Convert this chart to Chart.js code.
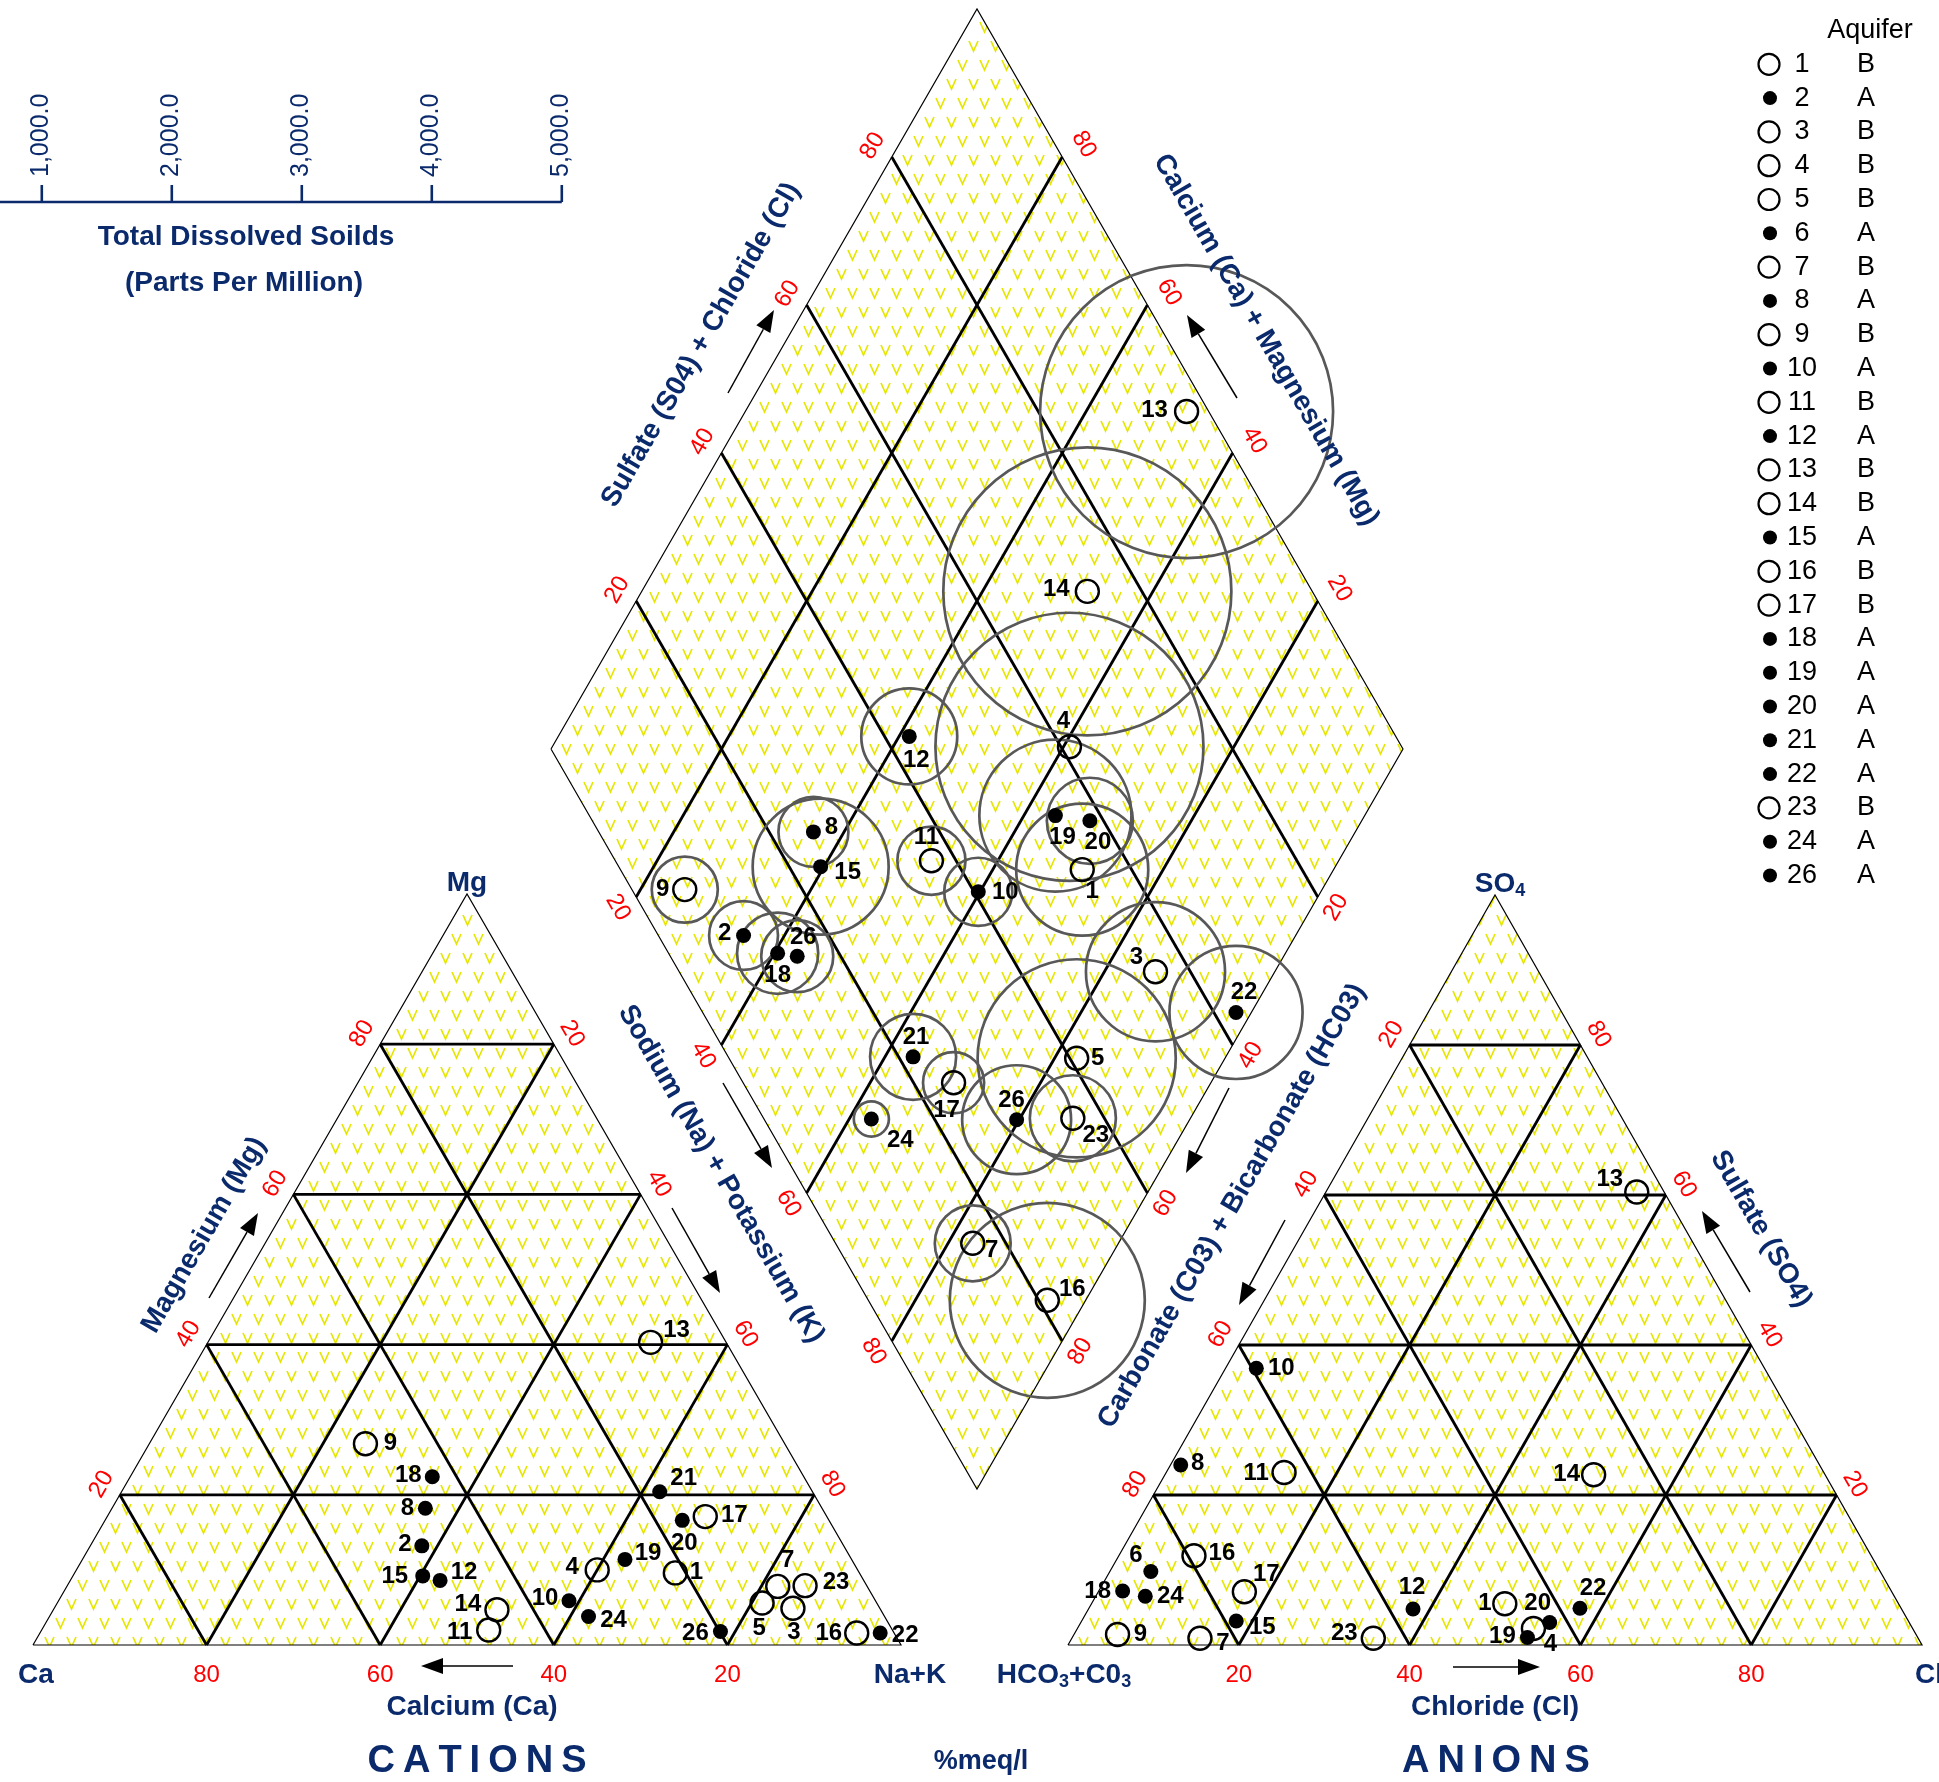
<!DOCTYPE html>
<html>
<head>
<meta charset="utf-8">
<title>Piper diagram</title>
<script src="https://cdn.jsdelivr.net/npm/chart.js@4.4.1/dist/chart.umd.min.js"></script>
<style>
  html, body { margin: 0; padding: 0; background: #fff; }
  canvas { display: block; }
</style>
</head>
<body>
<canvas id="piper" width="1939" height="1782"></canvas>
<script>
// ---- data (percent meq/l) ----
const samples = ['1', '2', '3', '4', '5', '6', '7', '8', '9', '10', '11', '12', '13',
    '14', '15', '16', '17', '18', '19', '20', '21', '22', '23', '24', '26'];
const aquifer = ['B', 'A', 'B', 'B', 'B', 'A', 'B', 'A', 'B', 'A', 'B', 'A', 'B',
    'B', 'A', 'B', 'B', 'A', 'A', 'A', 'A', 'A', 'B', 'A', 'A'];

// cations triangle
const calcium = [21.2, 48.6, 10.0, 30.0, 13.2, null, 10.3, 45.7, 48.3, 35.3, 46.5, 48.8, 8.7,
    44.2, 50.5, 4.3, 14.0, 42.8, 26.1, 16.9, 17.6, 1.6, 7.1, 34.1, 19.9];
const magnesium = [9.6, 13.2, 4.9, 10.0, 5.6, null, 7.8, 18.2, 26.8, 5.9, 2.0, 8.6, 40.3,
    4.7, 9.2, 1.6, 17.1, 22.4, 11.4, 16.6, 20.4, 1.6, 7.9, 3.8, 1.8];
const sodiumPotassium = [69.2, 38.2, 85.1, 60.0, 81.2, null, 81.9, 36.1, 24.9, 58.8, 51.5, 42.6, 51.0,
    51.1, 40.3, 94.1, 68.9, 34.8, 62.5, 66.5, 62.0, 96.8, 85.0, 62.1, 78.3];

// anions triangle
const bicarbonate = [46.1, null, null, 44.4, null, 85.4, 84.1, 74.8, 93.5, 59.5, 63.2, 57.2, 3.2,
    27.1, 78.7, 79.3, 75.8, 90.0, 45.7, 42.1, null, 37.6, 63.8, 87.7, null];
const sulfate = [5.5, null, null, 2.2, null, 9.8, 0.9, 24.0, 1.4, 36.9, 23.0, 4.8, 60.4,
    22.7, 3.2, 11.9, 7.1, 7.2, 1.0, 3.0, null, 4.9, 0.9, 6.5, null];
const chloride = [48.4, null, null, 53.4, null, 4.8, 15.0, 1.2, 5.1, 3.6, 13.8, 38.0, 36.4,
    50.2, 18.1, 8.8, 17.1, 2.8, 53.3, 54.9, null, 57.5, 35.3, 5.8, null];

// diamond (Na+K and SO4+Cl as plotted)
const diamondNaK = [70.5, 35.2, 86.0, 60.7, 82.6, 42.9, 82.9, 36.4, 25.2, 59.8, 52.2, 41.2, 51.8,
    52.3, 39.6, 95.5, 69.8, 40.4, 63.7, 68.1, 63.3, 98.2, 86.2, 62.6, 79.7];
const diamondSO4Cl = [54.2, 10.0, 55.9, 61.0, 40.8, 14.9, 16.1, 25.2, 6.2, 40.5, 37.1, 42.9, 97.4,
    73.6, 23.7, 21.0, 24.7, 12.8, 54.7, 58.4, 21.7, 62.6, 36.3, 12.6, 29.6];

// total dissolved solids, ppm
const tds = [508, 265, 535, 1031, 762, 277, 292, 269, 254, 262, 262, 369, 1127,
    1108, 523, 750, 235, 312, 585, 331, 331, 512, 331, 135, 419];

const ternaryTicks = [20, 40, 60, 80];
const tdsTicks = [1000, 2000, 3000, 4000, 5000];

// ---- layout ----
const FONT = '"Liberation Sans", Arial, Helvetica, sans-serif';
const NAVY = '#0a2a6c';
const RED = '#ff0000';

const CAT = { L: [33, 1645], R: [901, 1645], T: [467, 894] };
const ANI = { L: [1068, 1645], R: [1922, 1645], T: [1495, 895] };
const DIA = { L: [551, 749], T: [977, 9], R: [1403, 749], B: [977, 1489] };

const TDS_ORIGIN = -88.2;      // x of 0 ppm on the scale bar
const TDS_PX_PER_PPM = 0.13;   // same factor sets the circle radius
const TDS_AXIS_Y = 202;

// label centre offsets from the marker, px
const CATION_LABEL_OFFSET = {
    '1': [21, -1], '2': [-17, -1], '3': [1, 24], '4': [-25, -3], '5': [-3, 25], '7': [10, -26],
    '8': [-18, 0], '9': [25, 0], '10': [-24, -2], '11': [-29, 2], '12': [24, -8], '13': [26, -12],
    '14': [-29, -5], '15': [-28, 0], '16': [-28, 0], '17': [29, -1], '18': [-24, -1], '19': [23, -6],
    '20': [2, 23], '21': [24, -13], '22': [25, 2], '23': [31, -3], '24': [25, 4], '26': [-25, 2]
};
const ANION_LABEL_OFFSET = {
    '1': [-20, 0], '4': [17, 16], '6': [-15, -16], '7': [23, 5], '8': [17, -2], '9': [23, 0],
    '10': [25, 0], '11': [-28, 1], '12': [-1, -22], '13': [-27, -13], '14': [-27, 0], '15': [26, 6],
    '16': [28, -2], '17': [22, -17], '18': [-25, 0], '19': [-25, -1], '20': [-12, -19],
    '22': [13, -20], '23': [-29, -5], '24': [25, 0]
};
const DIAMOND_LABEL_OFFSET = {
    '1': [10, 22], '2': [-19, -2], '3': [-19, -14], '4': [-6, -25], '5': [21, 0], '6': [6, -19],
    '7': [19, 7], '8': [18, -5], '9': [-22, 0], '10': [27, 1], '11': [-5, -23], '12': [7, 24],
    '13': [-32, -1], '14': [-31, -2], '15': [27, 6], '16': [25, -11], '17': [-7, 28], '18': [0, 22],
    '19': [7, 22], '20': [8, 22], '21': [3, -19], '22': [8, -20], '23': [23, 17], '24': [29, 21],
    '26': [-5, -19]
};
const DIAMOND_LABEL_TEXT = { '6': '26' };

// ---- ternary projections ----
const cationPoint = (ca, mg, nak) => {
    const s = ca + mg + nak;
    return {
        x: (ca * CAT.L[0] + nak * CAT.R[0] + mg * CAT.T[0]) / s,
        y: (ca * CAT.L[1] + nak * CAT.R[1] + mg * CAT.T[1]) / s
    };
};
const anionPoint = (hco3, so4, cl) => {
    const s = hco3 + so4 + cl;
    return {
        x: (hco3 * ANI.L[0] + cl * ANI.R[0] + so4 * ANI.T[0]) / s,
        y: (hco3 * ANI.L[1] + cl * ANI.R[1] + so4 * ANI.T[1]) / s
    };
};
const diamondPoint = (nak, so4cl) => ({
    x: DIA.L[0] + so4cl / 100 * (DIA.T[0] - DIA.L[0]) + nak / 100 * (DIA.B[0] - DIA.L[0]),
    y: DIA.L[1] + so4cl / 100 * (DIA.T[1] - DIA.L[1]) + nak / 100 * (DIA.B[1] - DIA.L[1])
});

const cationPts = samples.map((s, i) => calcium[i] == null ? null
    : cationPoint(calcium[i], magnesium[i], sodiumPotassium[i]));
const anionPts = samples.map((s, i) => bicarbonate[i] == null ? null
    : anionPoint(bicarbonate[i], sulfate[i], chloride[i]));
const diamondPts = samples.map((s, i) => diamondPoint(diamondNaK[i], diamondSO4Cl[i]));

// yellow "V" fill used in the original
const makePattern = () => {
    const c = document.createElement('canvas');
    c.width = 22;
    c.height = 38;
    const g = c.getContext('2d');
    g.strokeStyle = '#e6e600';
    g.lineWidth = 1.7;
    const v = (x, y) => {
        g.beginPath();
        g.moveTo(x, y);
        g.lineTo(x + 4.5, y + 10);
        g.lineTo(x + 9, y);
        g.stroke();
    };
    v(1, 3);
    v(12, 22);
    return g.createPattern(c, 'repeat');
};
const yellowV = makePattern();

// ---- datasets ----
const datasets = [];
const xy = (p) => ({ x: p[0], y: p[1] });

[[CAT.L, CAT.R, CAT.T], [ANI.L, ANI.R, ANI.T], [DIA.L, DIA.T, DIA.R, DIA.B]].forEach((poly) => {
    datasets.push({
        type: 'line',
        data: poly.concat([poly[0]]).map(xy),
        borderColor: '#000',
        borderWidth: 1.2,
        backgroundColor: yellowV,
        fill: 'shape',
        pointRadius: 0,
        tension: 0,
        order: 50
    });
});

const seg = (p, q) => ({
    type: 'line',
    data: [p, q],
    borderColor: '#000',
    borderWidth: 2.8,
    pointRadius: 0,
    fill: false,
    tension: 0,
    order: 40
});
ternaryTicks.forEach((v) => {
    const w = 100 - v;
    datasets.push(seg(cationPoint(w, v, 0), cationPoint(0, v, w)));   // Mg
    datasets.push(seg(cationPoint(v, 0, w), cationPoint(v, w, 0)));   // Ca
    datasets.push(seg(cationPoint(w, 0, v), cationPoint(0, w, v)));   // Na+K
    datasets.push(seg(anionPoint(w, v, 0), anionPoint(0, v, w)));     // SO4
    datasets.push(seg(anionPoint(v, 0, w), anionPoint(v, w, 0)));     // HCO3
    datasets.push(seg(anionPoint(w, 0, v), anionPoint(0, w, v)));     // Cl
    datasets.push(seg(diamondPoint(0, v), diamondPoint(100, v)));
    datasets.push(seg(diamondPoint(v, 0), diamondPoint(v, 100)));
});

datasets.push({
    type: 'bubble',
    data: diamondPts.map((p, i) => ({ x: p.x, y: p.y, r: tds[i] * TDS_PX_PER_PPM })),
    backgroundColor: 'rgba(0,0,0,0)',
    borderColor: '#585858',
    borderWidth: 2.7,
    order: 30
});

const markerSet = (pts, kind) => ({
    type: 'scatter',
    data: pts.filter((p, i) => p && aquifer[i] === kind),
    pointRadius: kind === 'B' ? 11.5 : 7.5,
    pointBackgroundColor: kind === 'B' ? 'rgba(0,0,0,0)' : '#000',
    pointBorderColor: '#000',
    pointBorderWidth: kind === 'B' ? 2.4 : 0,
    order: kind === 'B' ? 20 : 10
});
[cationPts, anionPts, diamondPts].forEach((pts) => {
    datasets.push(markerSet(pts, 'B'));
    datasets.push(markerSet(pts, 'A'));
});

// ---- text, arrows, scale bar, legend ----
const ARROWS = [
    [[513, 1666], [421, 1666]],
    [[209, 1298], [258, 1213]],
    [[672, 1208], [720, 1293]],
    [[723, 1083], [772, 1168]],
    [[728, 393], [774, 310]],
    [[1237, 398], [1187, 315]],
    [[1229, 1088], [1186, 1173]],
    [[1285, 1220], [1239, 1305]],
    [[1750, 1292], [1702, 1211]],
    [[1453, 1667], [1540, 1667]]
];

const TITLES = [
    ['Mg', 467, 883, 0],
    ['Ca', 36, 1675, 0],
    ['Na+K', 910, 1675, 0],
    ['Calcium (Ca)', 472, 1707, 0],
    ['Chloride (Cl)', 1495, 1707, 0],
    ['Magnesium (Mg)', 204, 1235, -60],
    ['Sodium (Na) + Potassium (K)', 721, 1174, 60],
    ['Sulfate (S04) + Chloride (Cl)', 701, 345, -60],
    ['Calcium (Ca) + Magnesium (Mg)', 1266, 340, 60],
    ['Carbonate (C03) + Bicarbonate (HC03)', 1232, 1206, -60],
    ['Sulfate (SO4)', 1761, 1229, 60],
    ['Total Dissolved Soilds', 246, 237, 0],
    ['(Parts Per Million)', 244, 283, 0]
];

const textPlugin = {
    id: 'piperText',
    afterDatasetsDraw(chart) {
        const ctx = chart.ctx;
        const sx = chart.scales.x;
        const sy = chart.scales.y;
        const px = (p) => [sx.getPixelForValue(p.x), sy.getPixelForValue(p.y)];

        const rotText = (text, x, y, deg) => {
            ctx.save();
            ctx.translate(x, y);
            ctx.rotate(deg * Math.PI / 180);
            ctx.fillText(text, 0, 0);
            ctx.restore();
        };

        // edge tick labels
        ctx.font = `24px ${FONT}`;
        ctx.fillStyle = RED;
        ctx.textAlign = 'center';
        ctx.textBaseline = 'middle';
        const c60 = Math.cos(Math.PI / 6);
        const edges = [
            [(v) => cationPoint(100 - v, v, 0), [-c60, -0.5], 21, -60],
            [(v) => cationPoint(0, 100 - v, v), [c60, -0.5], 21, 60],
            [(v) => cationPoint(v, 0, 100 - v), [0, 1], 30, 0],
            [(v) => anionPoint(v, 100 - v, 0), [-c60, -0.5], 21, -60],
            [(v) => anionPoint(0, v, 100 - v), [c60, -0.5], 21, 60],
            [(v) => anionPoint(100 - v, 0, v), [0, 1], 30, 0],
            [(v) => diamondPoint(0, v), [-c60, -0.5], 22, -60],
            [(v) => diamondPoint(100 - v, 100), [c60, -0.5], 25, 60],
            [(v) => diamondPoint(v, 0), [-c60, 0.5], 21, 60],
            [(v) => diamondPoint(100, 100 - v), [c60, 0.5], 21, -60]
        ];
        edges.forEach(([pos, n, d, deg]) => {
            ternaryTicks.forEach((v) => {
                const [x, y] = px(pos(v));
                rotText(String(v), x + n[0] * d, y + n[1] * d, deg);
            });
        });

        // axis titles
        ctx.fillStyle = NAVY;
        ctx.font = `bold 28px ${FONT}`;
        TITLES.forEach(([t, x, y, deg]) => rotText(t, x, y, deg));
        ctx.textAlign = 'left';
        ctx.fillText('Cl', 1915, 1675);

        const subText = (parts, cx, cy) => {
            const big = `bold 28px ${FONT}`;
            const small = `bold 18px ${FONT}`;
            let w = 0;
            parts.forEach(([t, sub]) => { ctx.font = sub ? small : big; w += ctx.measureText(t).width; });
            let x = cx - w / 2;
            ctx.textAlign = 'left';
            parts.forEach(([t, sub]) => {
                ctx.font = sub ? small : big;
                ctx.fillText(t, x, sub ? cy + 7 : cy);
                x += ctx.measureText(t).width;
            });
        };
        subText([['HCO', false], ['3', true], ['+C0', false], ['3', true]], 1064, 1675);
        subText([['SO', false], ['4', true]], 1500, 884);

        const spaced = (t, cx, cy, gap) => {
            ctx.font = `bold 38px ${FONT}`;
            ctx.textAlign = 'left';
            const ws = t.split('').map((ch) => ctx.measureText(ch).width);
            let x = cx - (ws.reduce((a, b) => a + b, 0) + gap * (t.length - 1)) / 2;
            t.split('').forEach((ch, i) => { ctx.fillText(ch, x, cy); x += ws[i] + gap; });
        };
        spaced('CATIONS', 477, 1762, 8);
        spaced('ANIONS', 1496, 1762, 8);
        ctx.font = `bold 27px ${FONT}`;
        ctx.textAlign = 'center';
        ctx.fillText('%meq/l', 981, 1762);

        // arrows
        ctx.strokeStyle = '#000';
        ctx.fillStyle = '#000';
        ctx.lineWidth = 1.5;
        ARROWS.forEach(([a, b]) => {
            const ang = Math.atan2(b[1] - a[1], b[0] - a[0]);
            const hl = 22, hw = 8;
            const bx = b[0] - hl * Math.cos(ang), by = b[1] - hl * Math.sin(ang);
            ctx.beginPath();
            ctx.moveTo(a[0], a[1]);
            ctx.lineTo(bx, by);
            ctx.stroke();
            ctx.beginPath();
            ctx.moveTo(b[0], b[1]);
            ctx.lineTo(bx + hw * Math.sin(ang), by - hw * Math.cos(ang));
            ctx.lineTo(bx - hw * Math.sin(ang), by + hw * Math.cos(ang));
            ctx.closePath();
            ctx.fill();
        });

        // TDS scale bar
        const tdsX = (v) => TDS_ORIGIN + v * TDS_PX_PER_PPM;
        ctx.strokeStyle = NAVY;
        ctx.fillStyle = NAVY;
        ctx.lineWidth = 2.6;
        ctx.beginPath();
        ctx.moveTo(tdsX(0), TDS_AXIS_Y);
        ctx.lineTo(tdsX(5000), TDS_AXIS_Y);
        tdsTicks.forEach((v) => {
            ctx.moveTo(tdsX(v), TDS_AXIS_Y);
            ctx.lineTo(tdsX(v), TDS_AXIS_Y - 17);
        });
        ctx.stroke();
        ctx.font = `25px ${FONT}`;
        ctx.textAlign = 'left';
        ctx.textBaseline = 'middle';
        tdsTicks.forEach((v) => {
            const label = v.toLocaleString('en-US', { minimumFractionDigits: 1 });
            rotText(label, tdsX(v) - 1, TDS_AXIS_Y - 25, -90);
        });

        // point labels
        ctx.font = `bold 24px ${FONT}`;
        ctx.fillStyle = '#000';
        ctx.textAlign = 'center';
        ctx.textBaseline = 'middle';
        const drawLabels = (pts, offsets, textMap) => {
            samples.forEach((s, i) => {
                const p = pts[i];
                const off = offsets[s];
                if (!p || !off) return;
                const [x, y] = px(p);
                ctx.fillText((textMap && textMap[s]) || s, x + off[0], y + off[1]);
            });
        };
        drawLabels(cationPts, CATION_LABEL_OFFSET);
        drawLabels(anionPts, ANION_LABEL_OFFSET);
        drawLabels(diamondPts, DIAMOND_LABEL_OFFSET, DIAMOND_LABEL_TEXT);

        // legend
        ctx.font = `27px ${FONT}`;
        ctx.fillText('Aquifer', 1870, 31);
        samples.forEach((s, i) => {
            const y = 64.3 + i * 33.8;
            ctx.beginPath();
            if (aquifer[i] === 'B') {
                ctx.arc(1769, y, 10.5, 0, Math.PI * 2);
                ctx.lineWidth = 2.2;
                ctx.strokeStyle = '#000';
                ctx.stroke();
            } else {
                ctx.arc(1770, y, 7, 0, Math.PI * 2);
                ctx.fill();
            }
            ctx.fillText(s, 1802, y);
            ctx.fillText(aquifer[i], 1866, y);
        });
    }
};

new Chart(document.getElementById('piper').getContext('2d'), {
    type: 'scatter',
    data: { datasets },
    options: {
        responsive: false,
        maintainAspectRatio: false,
        devicePixelRatio: 1,
        animation: false,
        events: [],
        layout: { padding: 0, autoPadding: false },
        scales: {
            x: { type: 'linear', min: 0, max: 1939, display: false },
            y: { type: 'linear', min: 0, max: 1782, reverse: true, display: false }
        },
        plugins: {
            legend: { display: false },
            tooltip: { enabled: false }
        }
    },
    plugins: [textPlugin]
});
</script>
</body>
</html>
